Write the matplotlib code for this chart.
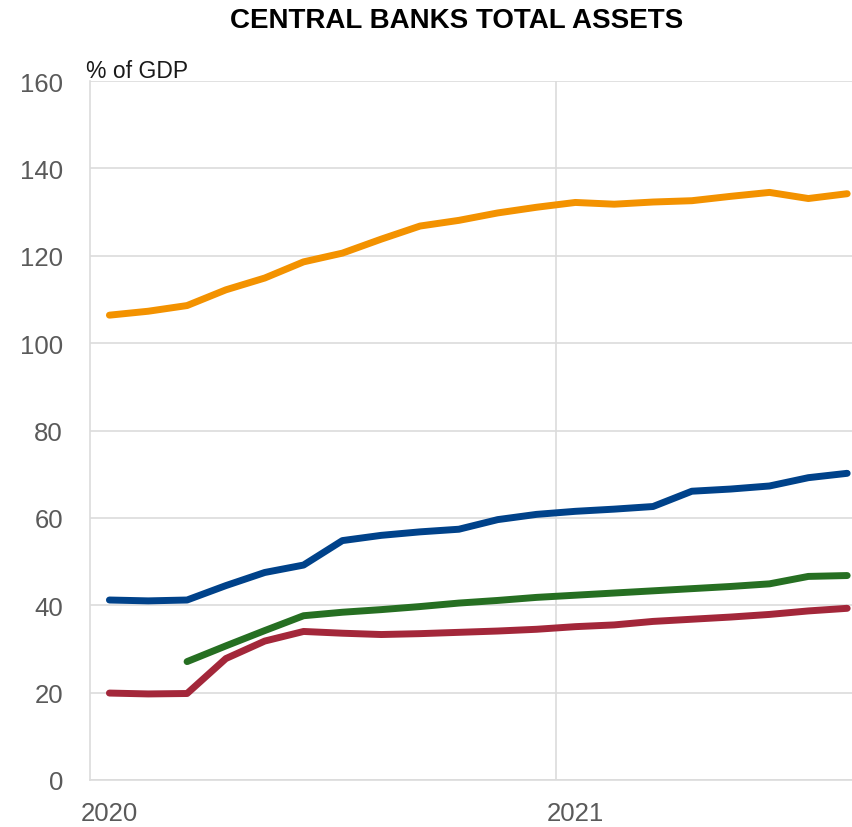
import matplotlib
matplotlib.use("Agg")
import matplotlib.pyplot as plt
import numpy as np

months = ["2020-01", "2020-02", "2020-03", "2020-04", "2020-05", "2020-06", "2020-07",
          "2020-08", "2020-09", "2020-10", "2020-11", "2020-12", "2021-01", "2021-02",
          "2021-03", "2021-04", "2021-05", "2021-06", "2021-07", "2021-08"]

japan = [106.4, 107.3, 108.6, 112.2, 114.9, 118.6, 120.6, 123.8, 126.8, 128.1,
         129.8, 131.1, 132.2, 131.8, 132.3, 132.6, 133.6, 134.5, 133.1, 134.2]
euro_area = [41.2, 41.0, 41.2, 44.5, 47.5, 49.2, 54.8, 56.0, 56.8, 57.4,
             59.6, 60.8, 61.5, 62.0, 62.6, 66.1, 66.6, 67.3, 69.2, 70.2]
uk = [np.nan, np.nan, 27.1, 30.7, 34.2, 37.6, 38.4, 39.0, 39.7, 40.5,
      41.1, 41.8, 42.3, 42.8, 43.3, 43.8, 44.3, 44.9, 46.6, 46.8]
us = [19.9, 19.7, 19.8, 27.8, 31.8, 34.0, 33.6, 33.3, 33.5, 33.8,
      34.1, 34.5, 35.1, 35.5, 36.3, 36.8, 37.3, 37.9, 38.7, 39.3]

series = [(japan, "#F39200"), (euro_area, "#00428A"), (uk, "#266F22"), (us, "#A3273A")]

year_ticks = [0, 12]
year_labels = ["2020", "2021"]
y_ticks = [0, 20, 40, 60, 80, 100, 120, 140, 160]

plt.rcParams['font.family'] = ['Liberation Sans', 'DejaVu Sans']

fig = plt.figure(figsize=(8.53, 8.28), dpi=100)
ax = fig.add_axes([90/853, 1-781/828, 1-90/853, (781-82)/828])

x = np.arange(len(months))
for vals, col in series:
    ax.plot(x, vals, color=col, lw=5.0, solid_capstyle='round', solid_joinstyle='round', zorder=3)

ax.set_xlim(-0.5, 19.15)
ax.set_ylim(0, 160)
ax.set_yticks(y_ticks)
ax.set_xticks(year_ticks)
ax.set_xticklabels(year_labels)
ax.set_xticks([11.5], minor=True)

grid_col = "#DCDCDC"
ax.grid(axis='y', which='major', color=grid_col, lw=1.2, zorder=0)
ax.grid(axis='x', which='minor', color=grid_col, lw=1.2, zorder=0)
ax.grid(axis='x', which='major', visible=False)

for s in ['top', 'right']:
    ax.spines[s].set_visible(False)
for s in ['left', 'bottom']:
    ax.spines[s].set_color(grid_col)
    ax.spines[s].set_linewidth(1.2)

ax.tick_params(axis='both', which='both', length=0, colors="#5a5a5a", labelsize=18.5)
ax.tick_params(axis='y', pad=19.5)
ax.tick_params(axis='x', pad=15)

ax.text(-0.6, 160.9, "% of GDP", fontsize=16.5, color="#1a1a1a", ha='left', va='baseline')

fig.text(457/853, 1-21/828, "CENTRAL BANKS TOTAL ASSETS", fontsize=20, fontweight='bold',
         ha='center', va='center', color='black')

fig.savefig("out.png", dpi=100)
